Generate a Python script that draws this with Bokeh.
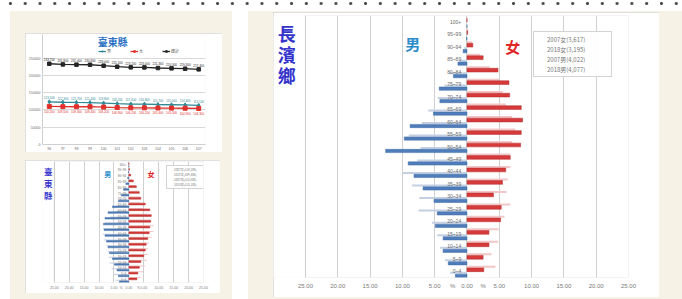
from bokeh.plotting import figure
from bokeh.layouts import row, column
from bokeh.models import (ColumnDataSource, FactorRange, Range1d, FixedTicker,
                          Legend, LegendItem, Label, Spacer, Div, BoxAnnotation)
from bokeh.transform import dodge
from bokeh.core.properties import value
from bokeh.embed import file_html
from bokeh.resources import INLINE

# ------------------------------------------------------------------ data
YEARS = ["96", "97", "98", "99", "100", "101", "102", "103", "104", "105", "106", "107"]
COUNTY_TOTAL = [233700, 231800, 231000, 230800, 228000, 225100, 223200, 223000, 221300, 220300, 219300, 217400]
COUNTY_MALE = [123500, 122300, 121700, 121400, 119800, 118200, 117000, 116800, 115700, 115000, 114400, 113100]
COUNTY_FEMALE = [110200, 109500, 109300, 109400, 108200, 106900, 106200, 106200, 105600, 105300, 104900, 104300]
LINE_Y_TICKS = [0, 50000, 100000, 150000, 200000, 250000]
LINE_Y_LABELS = ["0", "50000", "100000", "150000", "200000", "250000"]
LINE_LEGEND = ["男", "女", "總計"]

AGES = ["0~4", "5~9", "10~14", "15~19", "20~24", "25~29", "30~34", "35~39", "40~44", "45~49",
        "50~54", "55~59", "60~64", "65~69", "70~74", "75~79", "80~84", "85~89", "90~94", "95~99", "100+"]

# 長濱鄉 (percent of each sex)
TOWN_F07 = [4.4, 3.8, 4.8, 4.9, 5.8, 6.7, 6.1, 6.3, 6.7, 6.7, 7.0, 7.5, 7.0, 6.0, 5.5, 5.0, 3.5, 2.0, 0.8, 0.2, 0.05]
TOWN_F18 = [2.6, 2.5, 3.4, 3.4, 5.2, 5.3, 4.1, 5.5, 6.0, 6.7, 8.3, 8.4, 8.6, 8.4, 6.6, 6.5, 4.8, 2.5, 0.9, 0.1, 0.0]
TOWN_M07 = [2.6, 3.4, 4.2, 4.6, 5.4, 7.5, 7.4, 8.5, 10.0, 7.7, 7.2, 9.0, 7.0, 6.0, 4.5, 3.5, 2.8, 1.2, 0.4, 0.1, 0.0]
TOWN_M18 = [1.8, 2.9, 3.7, 3.7, 4.9, 4.6, 5.1, 6.8, 8.2, 9.1, 12.6, 9.7, 8.8, 5.2, 4.2, 4.3, 2.1, 1.4, 0.6, 0.05, 0.0]
TOWN_LEGEND = ["2007女(3,617)", "2018女(3,195)", "2007男(4,022)", "2018男(4,077)"]

# 臺東縣 (percent of each sex)
COUNTY_F07 = [4.2, 4.8, 5.5, 6.0, 6.3, 6.4, 6.8, 7.6, 8.2, 8.3, 7.5, 6.0, 4.6, 3.8, 3.8, 3.2, 2.2, 1.1, 0.4, 0.1, 0.02]
COUNTY_F18 = [2.7, 3.0, 3.5, 4.0, 5.0, 5.5, 5.8, 6.3, 6.8, 7.0, 7.3, 7.5, 7.0, 5.5, 4.0, 3.5, 2.5, 1.5, 0.6, 0.2, 0.05]
COUNTY_M07 = [4.5, 5.0, 5.8, 6.5, 6.8, 7.0, 7.6, 8.4, 8.8, 8.6, 8.0, 6.2, 4.5, 3.6, 3.5, 2.8, 1.6, 0.6, 0.2, 0.05, 0.0]
COUNTY_M18 = [3.2, 3.5, 4.0, 4.8, 5.5, 6.5, 7.0, 7.5, 8.0, 8.3, 8.5, 8.0, 7.0, 5.5, 3.5, 2.5, 1.8, 1.0, 0.4, 0.1, 0.0]
COUNTY_LEGEND = ["2007女(110,200)", "2018女(104,300)", "2007男(123,500)", "2018男(113,100)"]

X_TICKS = [-25, -20, -15, -10, -5, 0, 5, 10, 15, 20, 25]
X_TICK_LABELS = ["25.00", "20.00", "15.00", "10.00", "5.00", "0.00", "5.00", "10.00", "15.00", "20.00", "25.00"]

# ------------------------------------------------------------------ style
BEIGE = "#f6f3e6"
CJK = "Noto Sans CJK TC"
LAT = "Liberation Sans"
C_F07, C_F18, C_M07, C_M18 = "#f2c6c6", "#d63a3a", "#c4d0e2", "#4f7dbb"


def style_axis(ax, fs, standoff, color):
    ax.major_tick_line_color = None
    ax.minor_tick_line_color = None
    ax.major_tick_out = 0
    ax.major_tick_in = 0
    ax.minor_tick_out = 0
    ax.major_label_text_font_size = fs
    ax.major_label_text_color = color
    ax.major_label_text_font = LAT
    ax.major_label_standoff = standoff


def make_pyramid(w, h, borders, x_start, f07, f18, m07, m18, legend_labels, cfg):
    l, r, t, b = borders
    p = figure(width=w, height=h, x_range=Range1d(x_start, 25), y_range=FactorRange(factors=AGES),
               output_backend="svg", toolbar_location=None,
               min_border_left=l, min_border_right=r, min_border_top=t, min_border_bottom=b,
               background_fill_color="white", border_fill_color="white", outline_line_color=None)
    p.styles = {"outline": "1px solid #d6d6d6", "outline-offset": "-1px"}
    # plot-area border (spans the tick range)
    p.add_layout(BoxAnnotation(left=X_TICKS[0], right=X_TICKS[-1], bottom=0, top=len(AGES),
                               fill_alpha=0, line_color="#c4c4c4", line_width=1, level="underlay"))
    src = ColumnDataSource(dict(age=AGES, f07=f07, f18=f18,
                                m07=[-v for v in m07], m18=[-v for v in m18]))
    yr = p.y_range
    p.hbar(y=dodge("age", 0.36, range=yr), left=0, right="f07", height=0.16, source=src,
           fill_color=C_F07, line_color=None)
    p.hbar(y=dodge("age", 0.12, range=yr), left=0, right="f18", height=0.3, source=src,
           fill_color=C_F18, line_color="#b52a2a", line_width=0.5)
    p.hbar(y=dodge("age", -0.12, range=yr), left="m07", right=0, height=0.16, source=src,
           fill_color=C_M07, line_color=None)
    p.hbar(y=dodge("age", -0.36, range=yr), left="m18", right=0, height=0.26, source=src,
           fill_color=C_M18, line_color="#3f6aa3", line_width=0.5)
    p.text(x=-0.9, y="age", text="age", source=src, text_align="right", text_baseline="middle",
           text_font_size=cfg["age_fs"], text_color="#6a6a6a", text_font=value(LAT))

    p.yaxis.visible = False
    p.ygrid.grid_line_color = None
    p.xgrid.ticker = FixedTicker(ticks=X_TICKS)
    p.xgrid.grid_line_color = "#d0d0d0"
    p.xaxis.ticker = FixedTicker(ticks=X_TICKS + cfg["pct"])
    ov = {t: s for t, s in zip(X_TICKS, X_TICK_LABELS)}
    for t in cfg["pct"]:
        ov[t] = "%"
    p.xaxis.major_label_overrides = ov
    p.xaxis.axis_line_color = None
    style_axis(p.xaxis, cfg["tick_fs"], cfg["standoff"], "#7a7a7a")

    # legend with round markers
    items = []
    for lbl, fc, lc in zip(legend_labels, ["#f4f0f0", C_F18, "#eef0f4", C_M18],
                           ["#d8c8c8", "#a02020", "#c8ccd8", "#305a90"]):
        rr = p.scatter(x=[], y=[], marker="circle", size=4, fill_color=fc, line_color=lc)
        items.append(LegendItem(label=lbl, renderers=[rr]))
    p.add_layout(Legend(items=items, location=cfg["leg_loc"],
                        label_text_font_size=cfg["leg_fs"], label_text_font=CJK,
                        label_text_color="#777777",
                        glyph_width=cfg["glyph"], glyph_height=cfg["glyph"], label_height=cfg["glyph"],
                        label_width=cfg["leg_lw"], label_standoff=1, spacing=0, padding=cfg["leg_pad"],
                        margin=0, border_line_color="#a8a8a8", border_line_width=1,
                        background_fill_color="white"))

    # titles / sex markers
    p.add_layout(Label(x=cfg["title_xy"][0], y=cfg["title_xy"][1],
                       text=cfg["title"], text_align="center", text_baseline="top",
                       text_font=CJK, text_font_style="bold", text_font_size=cfg["title_fs"],
                       text_color="#3434cc", text_line_height=cfg["title_lh"]))
    p.add_layout(Label(x=cfg["male_xy"][0], y=cfg["male_xy"][1], text="男", text_align="center",
                       text_baseline="middle", text_font=CJK, text_font_style="bold",
                       text_font_size=cfg["sex_fs"], text_color="#2b8ccc"))
    p.add_layout(Label(x=cfg["female_xy"][0], y=cfg["female_xy"][1], text="女", text_align="center",
                       text_baseline="middle", text_font=CJK, text_font_style="bold",
                       text_font_size=cfg["sex_fs"], text_color="#e02626"))
    return p


# ------------------------------------------------------------------ big pyramid (長濱鄉)
pb = make_pyramid(386, 285, (0, 31, 3, 20), -29.95, TOWN_F07, TOWN_F18, TOWN_M07, TOWN_M18, TOWN_LEGEND,
                  dict(age_fs="5px", tick_fs="6px", standoff=5, pct=[-2.2, 2.5],
                       leg_loc=(260, 200), leg_fs="6px", glyph=10, leg_lw=62, leg_pad=2,
                       title="長\n濱\n鄉", title_xy=(-27.9, 20.65), title_fs="18px", title_lh=0.82,
                       male_xy=(-8.4, 18.76), female_xy=(7.1, 18.5), sex_fs="15px"))
pb.margin = (1, 23, 2, 25)

# ------------------------------------------------------------------ small pyramid (臺東縣)
ps = make_pyramid(195, 133, (0, 17, 1, 11), -28.94, COUNTY_F07, COUNTY_F18, COUNTY_M07, COUNTY_M18,
                  COUNTY_LEGEND,
                  dict(age_fs="3px", tick_fs="3.5px", standoff=3, pct=[-2.6, 3.2],
                       leg_loc=(124, 93), leg_fs="3px", glyph=5, leg_lw=34, leg_pad=1,
                       title="臺\n東\n縣", title_xy=(-27.0, 20.35), title_fs="8.5px", title_lh=0.98,
                       male_xy=(-7.1, 18.9), female_xy=(7.4, 18.8), sex_fs="7px"))
ps.margin = (8, 12, 6, 15)

# ------------------------------------------------------------------ line chart (臺東縣 population)
pl = figure(width=197, height=119, x_range=FactorRange(factors=YEARS), y_range=Range1d(0, 318300),
            output_backend="svg", toolbar_location=None,
            min_border_left=16, min_border_right=5, min_border_top=1, min_border_bottom=8,
            background_fill_color="white", border_fill_color="white", outline_line_color=None)
pl.styles = {"outline": "1px solid #d6d6d6", "outline-offset": "-1px"}
pl.margin = (22, 10, 0, 15)
lsrc = ColumnDataSource(dict(year=YEARS, total=COUNTY_TOTAL, male=COUNTY_MALE, female=COUNTY_FEMALE,
                             total_lbl=[f"{v:,}" for v in COUNTY_TOTAL],
                             male_lbl=[f"{v:,}" for v in COUNTY_MALE],
                             female_lbl=[f"{v:,}" for v in COUNTY_FEMALE]))
series = [("male", "#2f8a96", "diamond", 4, -3, "bottom"),
          ("female", "#e0302c", "square", 4, 3, "top"),
          ("total", "#262626", "square", 3.5, -3, "bottom")]
items = []
for (col, colr, mk, sz, yoff, base), lbl in zip(series, LINE_LEGEND):
    rl = pl.line("year", col, source=lsrc, line_color=colr, line_width=1.3)
    rs = pl.scatter("year", col, source=lsrc, marker=mk, size=sz, fill_color=colr, line_color=colr)
    pl.text("year", col, text=col + "_lbl", source=lsrc, y_offset=yoff, text_align="center",
            text_baseline=base, text_font_size="3px", text_color=colr, text_font=value(LAT))
    items.append(LegendItem(label=lbl, renderers=[rl, rs]))
pl.add_layout(Legend(items=items, orientation="horizontal", location=(56, 90),
                     label_text_font_size="4px", label_text_font=CJK, label_text_color="#555555",
                     glyph_width=8, glyph_height=4, label_height=4, label_standoff=1, spacing=3,
                     padding=0, margin=0, border_line_color=None, background_fill_alpha=0))
pl.add_layout(Label(x=5.18, y=298000, text="臺東縣",
                    text_align="center", text_baseline="middle", text_font=CJK,
                    text_font_style="bold", text_font_size="10px", text_color="#2a6fc2"))
pl.yaxis.ticker = FixedTicker(ticks=LINE_Y_TICKS)
pl.yaxis.major_label_overrides = {t: s for t, s in zip(LINE_Y_TICKS, LINE_Y_LABELS)}
pl.ygrid.ticker = FixedTicker(ticks=LINE_Y_TICKS)
pl.ygrid.grid_line_color = "#d9d9d9"
pl.xgrid.grid_line_color = None
for ax in (pl.xaxis, pl.yaxis):
    ax.axis_line_color = "#cfcfcf"
    style_axis(ax, "3.5px", 2, "#6a6a6a")

# ------------------------------------------------------------------ layout
dots = Div(text="", width=682, height=11, margin=0,
           styles={"background-image": "radial-gradient(circle, #4a4a4a 0 1.2px, transparent 1.8px)",
                   "background-size": "14.8px 7px", "background-repeat": "repeat-x",
                   "background-position": "3px 0px"})
left_col = column(pl, ps, styles={"background-color": BEIGE})
right_col = column(pb, styles={"background-color": BEIGE})
page = column(dots, row(Spacer(width=10), left_col, Spacer(width=16), right_col))

open("out.html", "w").write(file_html(page, INLINE))
